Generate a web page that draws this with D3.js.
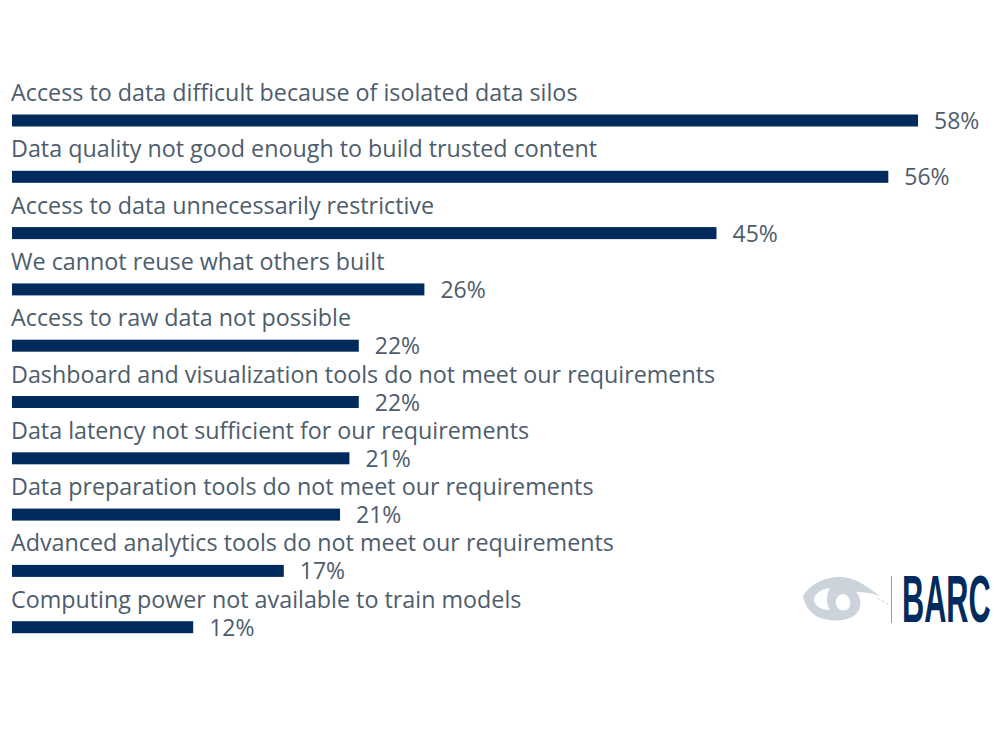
<!DOCTYPE html>
<html>
<head>
<meta charset="utf-8">
<script src="https://cdn.jsdelivr.net/npm/d3@7"></script>
<style>
  html, body { margin: 0; padding: 0; background: #fff; }
  text { font-family: "Open Sans", sans-serif; }
</style>
</head>
<body>
<div id="chart"></div>
<script>
const categories = [
  "Access to data difficult because of isolated data silos",
  "Data quality not good enough to build trusted content",
  "Access to data unnecessarily restrictive",
  "We cannot reuse what others built",
  "Access to raw data not possible",
  "Dashboard and visualization tools do not meet our requirements",
  "Data latency not sufficient for our requirements",
  "Data preparation tools do not meet our requirements",
  "Advanced analytics tools do not meet our requirements",
  "Computing power not available to train models"
];
const values = [58, 56.1, 45.1, 26.4, 22.2, 22.2, 21.6, 21, 17.4, 11.6];
const valueLabels = ["58%", "56%", "45%", "26%", "22%", "22%", "21%", "21%", "17%", "12%"];

const width = 1000, height = 734;
const navy = "#002b5c", grey = "#4d5d6c";

const svg = d3.select("#chart").append("svg")
  .attr("width", width)
  .attr("height", height)
  .style("display", "block");

const x = d3.scaleLinear().domain([0, 58]).range([12, 918]);
const y = d3.scaleBand().domain(categories).range([93, 656]);

const rows = svg.selectAll("g.row")
  .data(categories)
  .enter()
  .append("g")
  .attr("class", "row")
  .attr("transform", d => `translate(0,${y(d)})`);

rows.append("text")
  .text(d => d)
  .attr("x", 11)
  .attr("y", 8)
  .attr("font-size", 23.3)
  .attr("fill", grey);

rows.append("rect")
  .attr("x", x(0))
  .attr("y", 21.5)
  .attr("width", (d, i) => x(values[i]) - x(0))
  .attr("height", 12)
  .attr("fill", navy);

rows.append("text")
  .text((d, i) => valueLabels[i])
  .attr("x", (d, i) => x(values[i]) + 16)
  .attr("y", 36)
  .attr("font-size", 23)
  .attr("fill", grey);

// logo
const logo = svg.append("g").attr("transform", "translate(780,560)");
logo.append("path")
  .attr("fill", "#ccd3da")
  .attr("fill-rule", "evenodd")
  .attr("d", "M23,36 C30,24 46,16 62,17 C76,18 88,27 100,36 C92,33 84,32 76,32 C82,38 82,48 76,54 C68,62 50,62 38,57 C32,54 24,46 23,36 Z M50,28 C40,29 33,35 34,41 C36,47 42,50 50,50 C46,44 46,35 50,28 Z M64,34 C58,34 55,39 56,44 C57,50 63,52 68,49 C72,45 71,37 64,34 Z");
logo.append("path")
  .attr("fill", "none")
  .attr("stroke", "#ccd3da")
  .attr("stroke-width", 1)
  .attr("stroke-dasharray", "3 2")
  .attr("d", "M97,38 L109,45");
logo.append("rect")
  .attr("x", 111)
  .attr("y", 16)
  .attr("width", 1)
  .attr("height", 47)
  .attr("fill", "#8fa0b3");
logo.append("text")
  .text("BARC")
  .attr("transform", "translate(122,62) scale(0.465,1)")
  .attr("font-size", 66)
  .attr("font-weight", 700)
  .attr("fill", navy)
  .style("font-family", "'Liberation Sans Narrow', 'Liberation Sans', sans-serif");
</script>
</body>
</html>
